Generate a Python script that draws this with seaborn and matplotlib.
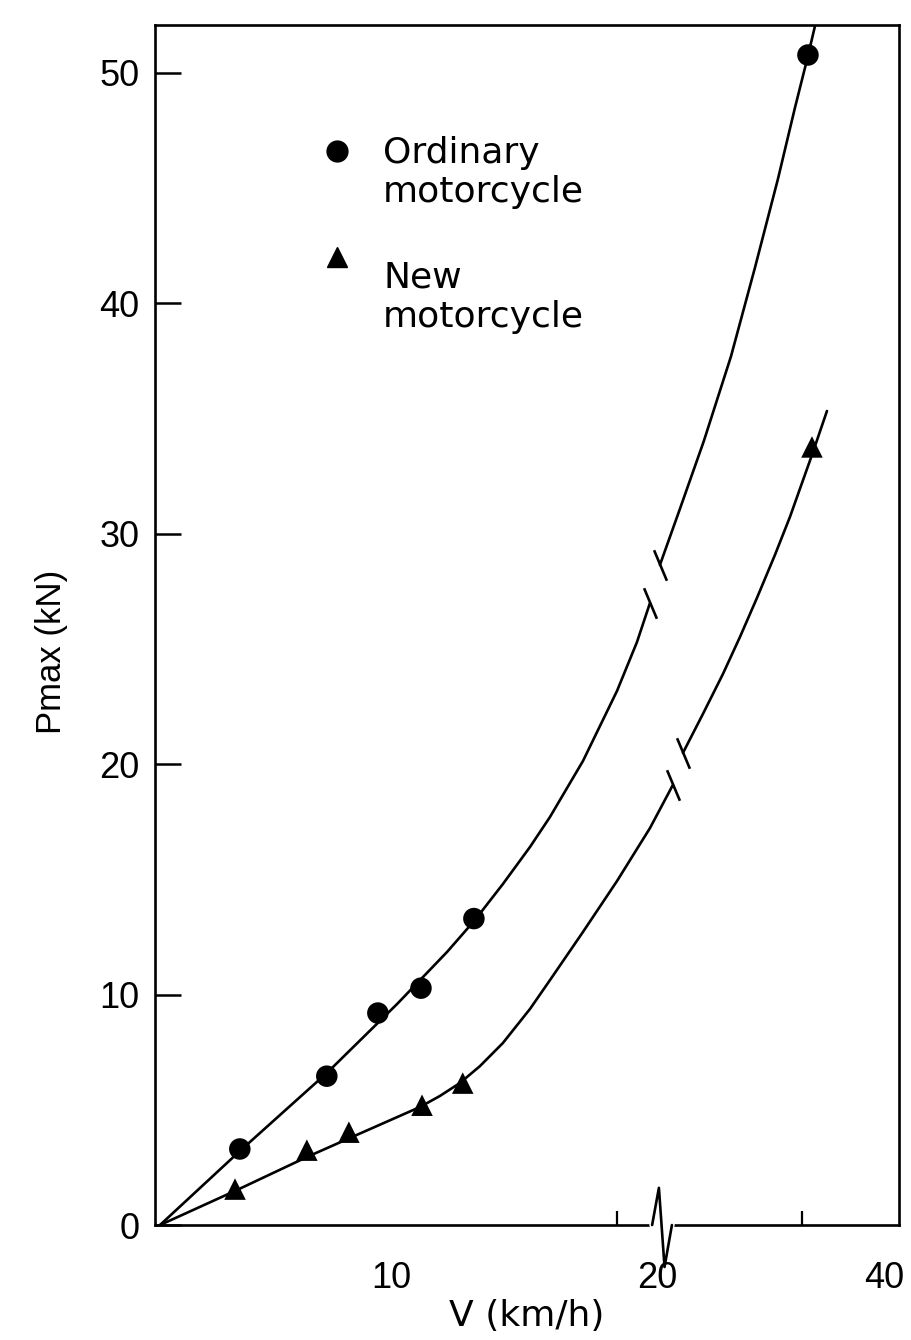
import numpy as np
import matplotlib
matplotlib.use("Agg")
import matplotlib.pyplot as plt
import matplotlib.transforms as mtransforms
from matplotlib.path import Path
import seaborn as sns

# measured points (V in km/h, Pmax in kN)
ord_v = [4.32, 7.59, 9.51, 11.13, 13.12, 32.48]
ord_p = [3.30, 6.46, 9.20, 10.28, 13.30, 50.78]
new_v = [4.14, 6.84, 8.42, 11.17, 12.70, 32.81]
new_p = [1.56, 3.25, 4.03, 5.20, 6.16, 33.77]

# hand drawn fit curves, each in two pieces around the "//" break
ord_curve_v_lo = [1.32, 4.32, 7.63, 10.23, 12.11, 13.16, 14.21, 15.23, 15.98, 17.22, 18.50, 19.25, 19.74]
ord_curve_p_lo = [0.0, 3.21, 6.64, 9.59, 11.85, 13.24, 14.80, 16.41, 17.71, 20.14, 23.18, 25.30, 27.00]
ord_curve_v_hi = [20.25, 21.90, 23.88, 26.12, 28.10, 30.00, 31.40, 32.48, 33.31]
ord_curve_p_hi = [28.65, 31.08, 34.03, 37.70, 41.55, 45.40, 48.48, 50.74, 52.60]
new_curve_v_lo = [1.32, 4.14, 6.84, 8.46, 11.09, 11.84, 12.59, 13.35, 14.21, 15.23, 15.98, 17.22, 18.50, 19.74, 21.32]
new_curve_p_lo = [0.0, 1.48, 2.95, 3.78, 5.12, 5.60, 6.16, 6.90, 7.90, 9.38, 10.63, 12.72, 14.93, 17.23, 19.10]
new_curve_v_hi = [22.15, 23.80, 25.45, 26.86, 28.26, 29.75, 30.99, 32.81, 34.05]
new_curve_p_hi = [20.49, 22.18, 23.91, 25.52, 27.21, 29.08, 30.73, 33.42, 35.33]

x_labels = [10, 20, 40]
x_minor = [10, 18.5, 32]
y_ticks = [0, 10, 20, 30, 40, 50]

# broken V axis: compressed above 20 km/h
V_BREAK = 20
SQUEEZE = 0.455


def fwd(x):
    x = np.asarray(x, float)
    return np.where(x <= V_BREAK, x, V_BREAK + (x - V_BREAK) * SQUEEZE)


def inv(u):
    u = np.asarray(u, float)
    return np.where(u <= V_BREAK, u, V_BREAK + (u - V_BREAK) / SQUEEZE)


sns.set_style("ticks")
plt.rcParams['font.family'] = ['DejaVu Sans']
plt.rcParams['text.color'] = 'black'
plt.rcParams['axes.labelcolor'] = 'black'

fig = plt.figure(figsize=(9.11, 13.40), dpi=100)
ax = fig.add_axes([0.1701, 0.0858, 0.8167, 0.8955])
ax.set_xscale('function', functions=(fwd, inv))

for cv, cp in [(ord_curve_v_lo, ord_curve_p_lo), (ord_curve_v_hi, ord_curve_p_hi),
               (new_curve_v_lo, new_curve_p_lo), (new_curve_v_hi, new_curve_p_hi)]:
    sns.lineplot(x=cv, y=cp, sort=False, estimator=None, color='black', lw=1.9, ax=ax)

sns.scatterplot(x=ord_v, y=ord_p, marker='o', s=240, color='black', edgecolor='none', ax=ax, zorder=4)
sns.scatterplot(x=new_v, y=new_p, marker='^', s=240, color='black', edgecolor='none', ax=ax, zorder=4)

# "//" break strokes at the curve gaps
stroke = Path([(-0.42, 1.0), (0.42, -1.0)])
for lo_v, lo_p, hi_v, hi_p in [(ord_curve_v_lo, ord_curve_p_lo, ord_curve_v_hi, ord_curve_p_hi),
                               (new_curve_v_lo, new_curve_p_lo, new_curve_v_hi, new_curve_p_hi)]:
    ax.plot([lo_v[-1], hi_v[0]], [lo_p[-1], hi_p[0]], linestyle='none', marker=stroke,
            ms=22, mew=1.9, color='black')

ax.set_xlim(1.13, 40)
ax.set_ylim(0, 52.08)

# zigzag on the V axis at the break
trans = mtransforms.blended_transform_factory(ax.transData, ax.transAxes)
zz_v = V_BREAK + np.array([-0.18, 0.165, 0.63, 1.24])
ax.plot([zz_v[0], zz_v[-1]], [0, 0], color='white', lw=4, transform=trans, clip_on=False, zorder=5)
ax.plot(zz_v, [0, 0.031, -0.035, 0], color='black', lw=1.9, transform=trans, clip_on=False, zorder=6)

ax.set_yticks(y_ticks)
ax.set_yticklabels([str(t) for t in y_ticks])
ax.set_xticks(x_labels)
ax.set_xticklabels([str(t) for t in x_labels])
ax.set_xticks(x_minor, minor=True)
ax.tick_params(axis='y', direction='in', length=19, width=1.8, pad=11, labelsize=26, colors='black')
ax.tick_params(axis='x', which='major', length=0, pad=26, labelsize=26, colors='black')
ax.tick_params(axis='x', which='minor', direction='in', length=10, width=1.6, colors='black')
for lab in ax.get_xticklabels() + ax.get_yticklabels():
    lab.set_family(['Liberation Sans'])
# the "40" sits just inside the right edge
last = ax.get_xticklabels()[-1]
last.set_transform(last.get_transform() + mtransforms.ScaledTranslation(-0.15, 0, fig.dpi_scale_trans))

for sp in ax.spines.values():
    sp.set_visible(True)
    sp.set_linewidth(1.9)
    sp.set_color('black')

ax.set_xlabel("V (km/h)", fontsize=26, labelpad=2)
ax.set_ylabel("Pmax (kN)", fontsize=25, family=['Liberation Sans'])
ax.yaxis.set_label_coords(-0.117, 0.4775)

# legend drawn by hand, like the original
ax.plot([0.2446], [0.8950], 'o', ms=15, color='black', transform=ax.transAxes)
ax.plot([0.2446], [0.8067], '^', ms=15, color='black', transform=ax.transAxes)
ax.text(0.3065, 0.8525, "Ordinary\nmotorcycle", transform=ax.transAxes, va='baseline', ha='left',
        fontsize=26, color='black')
ax.text(0.3065, 0.7483, "New\nmotorcycle", transform=ax.transAxes, va='baseline', ha='left',
        fontsize=26, color='black')

plt.savefig('out.png', dpi=100)
